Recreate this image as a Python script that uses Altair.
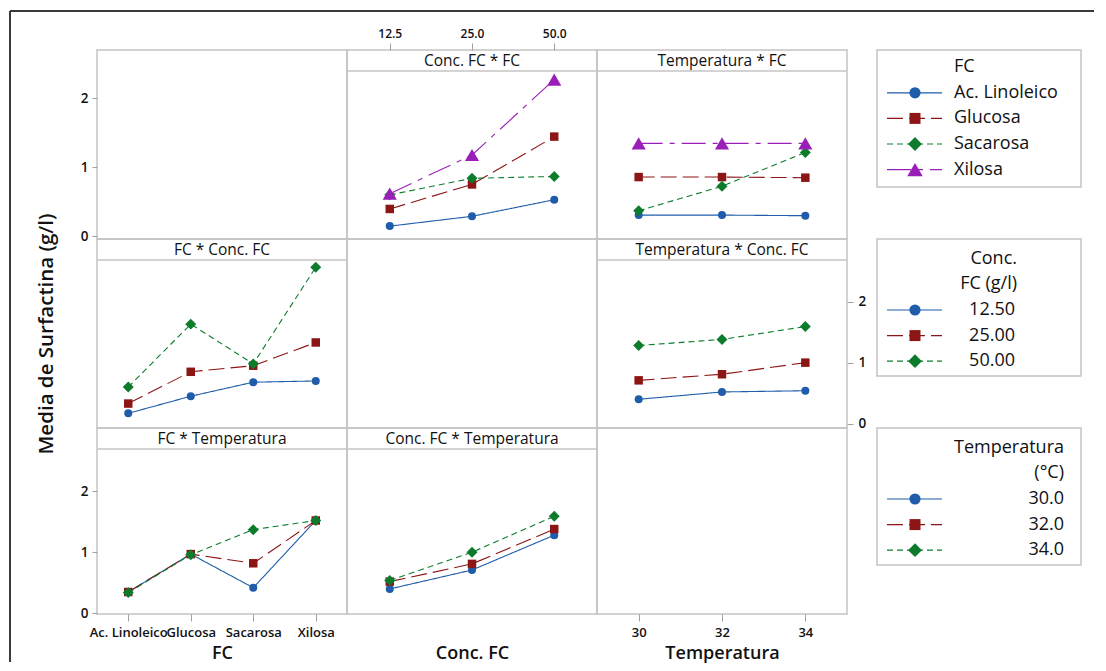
import altair as alt
import pandas as pd

# ---------------- data ----------------
FC = ["Ac. Linoleico", "Glucosa", "Sacarosa", "Xilosa"]
CONC = ["12.5", "25.0", "50.0"]
TEMP = [30, 32, 34]
CONC_LEGEND = ["12.50", "25.00", "50.00"]
TEMP_LEGEND = ["30.0", "32.0", "34.0"]
Y_TICKS = [0, 1, 2]

# mean surfactin for each FC at Conc. FC = 12.5, 25.0, 50.0
LINOLEICO_BY_CONC = [0.17, 0.33, 0.60]
GLUCOSA_BY_CONC = [0.45, 0.85, 1.63]
SACAROSA_BY_CONC = [0.68, 0.95, 0.98]
XILOSA_BY_CONC = [0.70, 1.33, 2.56]

# mean surfactin for each FC at Temperatura = 30, 32, 34
LINOLEICO_BY_TEMP = [0.35, 0.35, 0.34]
GLUCOSA_BY_TEMP = [0.97, 0.97, 0.96]
SACAROSA_BY_TEMP = [0.42, 0.82, 1.37]
XILOSA_BY_TEMP = [1.52, 1.52, 1.52]

# mean surfactin for each Conc. FC at Temperatura = 30, 32, 34
CONC125_BY_TEMP = [0.40, 0.52, 0.54]
CONC25_BY_TEMP = [0.71, 0.81, 1.00]
CONC50_BY_TEMP = [1.28, 1.38, 1.59]

FC_BY_CONC = [LINOLEICO_BY_CONC, GLUCOSA_BY_CONC, SACAROSA_BY_CONC, XILOSA_BY_CONC]
FC_BY_TEMP = [LINOLEICO_BY_TEMP, GLUCOSA_BY_TEMP, SACAROSA_BY_TEMP, XILOSA_BY_TEMP]
CONC_BY_TEMP = [CONC125_BY_TEMP, CONC25_BY_TEMP, CONC50_BY_TEMP]

# ---------------- styles / geometry ----------------
FONT = "Open Sans"
FRAME = "#c4c4c4"
TEXT = "#111111"
STYLE = [
    {"color": "#1F5CAA", "shape": "circle", "size": 64, "lsize": 125, "dash": [1, 0]},
    {"color": "#8C1515", "shape": "square", "size": 72, "lsize": 121, "dash": [16, 6]},
    {"color": "#0C7C2C", "shape": "diamond", "size": 120, "lsize": 190, "dash": [6, 4]},
    {"color": "#9A1FB8", "shape": "triangle-up", "size": 200, "lsize": 240, "dash": [24, 7, 5, 7]},
]
W = 250
HDR = 21
ROW_H = [189, 189, 186]
ROW_DOM = [(-0.04, 2.70), (-0.07, 2.68), (-0.01, 2.69)]
LEG_W = 234


def ydom(r, header=True):
    lo, hi = ROW_DOM[r]
    if not header:
        return [lo, hi]
    return [lo, hi + HDR * (hi - lo) / (ROW_H[r] - HDR)]


def long_table(xs, matrix, transpose=False):
    rows = []
    if transpose:
        n_series = len(matrix[0])
        for s in range(n_series):
            for j, x in enumerate(xs):
                rows.append({"x": x, "s": s, "y": matrix[j][s]})
    else:
        for s, vals in enumerate(matrix):
            for j, x in enumerate(xs):
                rows.append({"x": x, "s": s, "y": vals[j]})
    return pd.DataFrame(rows)


def x_enc(kind, axis):
    if kind == "fc":
        return alt.X("x:N", scale=alt.Scale(type="point", domain=FC, padding=0.5), axis=axis)
    if kind == "conc":
        return alt.X("x:N", scale=alt.Scale(type="point", domain=CONC, padding=0.52), axis=axis)
    return alt.X("x:Q", scale=alt.Scale(domain=[29, 35], nice=False, zero=False), axis=axis)


def header_layers(title):
    hdf = pd.DataFrame({"t": [title]})
    rule = alt.Chart(hdf).mark_rule(color=FRAME, strokeWidth=1.5).encode(
        x=alt.value(0), x2=alt.value(W), y=alt.value(HDR))
    text = alt.Chart(hdf).mark_text(font=FONT, fontSize=15.5, fontWeight=500, color=TEXT,
                                    baseline="middle").encode(
        x=alt.value(W / 2), y=alt.value(HDR / 2 + 0.5), text="t:N")
    return [rule, text]


def panel(r, xkind, title, df, xaxis=None, yaxis=None):
    x = x_enc(xkind, xaxis)
    y = alt.Y("y:Q", scale=alt.Scale(domain=ydom(r), nice=False, zero=False), axis=yaxis)
    layers = []
    for i in sorted(df["s"].unique()):
        st = STYLE[i]
        sub = alt.Chart(df).transform_filter(alt.datum.s == int(i))
        layers.append(sub.mark_line(color=st["color"], strokeWidth=1.1, strokeDash=st["dash"]).encode(x=x, y=y))
        layers.append(sub.mark_point(filled=True, opacity=1, shape=st["shape"], size=st["size"],
                                     color=st["color"]).encode(x=x, y=y))
    layers += header_layers(title)
    return alt.layer(*layers).properties(width=W, height=ROW_H[r])


BOTTOM = dict(orient="bottom", labelAngle=0, tickSize=7, labelPadding=5, labelFontSize=13,
              labelOverlap=False, titleY=39, titleBaseline="middle", titleFontSize=18)

# ---------------- panels ----------------
one = pd.DataFrame({"a": [0]})

# (1,1): empty, carries the row-1 axis and the outer border
p11_axis = alt.Chart(pd.DataFrame({"y": Y_TICKS})).mark_point(opacity=0).encode(
    x=alt.value(0),
    y=alt.Y("y:Q", scale=alt.Scale(domain=ydom(0, header=False), nice=False, zero=False),
            axis=alt.Axis(values=Y_TICKS, format="d", title="", tickSize=5, labelPadding=4)))
border_top = alt.Chart(one).mark_rule(color="#3a3a3a", strokeWidth=2).encode(
    x=alt.value(-87), x2=alt.value(997), y=alt.value(-39))
border_left = alt.Chart(one).mark_rule(color="#3a3a3a", strokeWidth=2).encode(
    x=alt.value(-87), y=alt.value(-39), y2=alt.value(612))
p11 = alt.layer(p11_axis, border_top, border_left).properties(width=W, height=ROW_H[0])

p12 = panel(0, "conc", "Conc. FC * FC", long_table(CONC, FC_BY_CONC),
            xaxis=alt.Axis(orient="top", title="", labelAngle=0, tickSize=7, labelPadding=3, labelFontSize=12))
p13 = panel(0, "temp", "Temperatura * FC", long_table(TEMP, FC_BY_TEMP))

p21 = panel(1, "fc", "FC * Conc. FC", long_table(FC, FC_BY_CONC, transpose=True),
            yaxis=alt.Axis(title="Media de Surfactina (g/l)", labels=False, ticks=False,
                           titleX=-51, titleY=ROW_H[1] / 2, titleAngle=270, titleAlign="center",
                           titleBaseline="middle", titleFontSize=20.5))
p22 = alt.Chart(one).mark_point(opacity=0).encode(x=alt.value(0), y=alt.value(0)).properties(
    width=W, height=ROW_H[1])
p23 = panel(1, "temp", "Temperatura * Conc. FC", long_table(TEMP, CONC_BY_TEMP),
            yaxis=alt.Axis(orient="right", values=Y_TICKS, format="d", title="", tickSize=6, labelPadding=5))

p31 = panel(2, "fc", "FC * Temperatura", long_table(FC, FC_BY_TEMP, transpose=True),
            xaxis=alt.Axis(title="FC", **BOTTOM),
            yaxis=alt.Axis(values=Y_TICKS, format="d", title="", tickSize=5, labelPadding=4))
p32 = panel(2, "conc", "Conc. FC * Temperatura", long_table(CONC, CONC_BY_TEMP, transpose=True),
            xaxis=alt.Axis(title="Conc. FC", labels=False, ticks=False, titleY=39,
                           titleBaseline="middle", titleFontSize=18))
p33 = alt.Chart(pd.DataFrame({"x": TEMP})).mark_point(opacity=0).encode(
    x=x_enc("temp", alt.Axis(title="Temperatura", values=TEMP, format="d", **BOTTOM)),
    y=alt.value(0)).properties(width=W, height=ROW_H[2])


# ---------------- legends ----------------
def legend(r, title_lines, labels, align, title_x, label_x, offset):
    step = 25.6
    h = ROW_H[r]
    ys = alt.Scale(domain=[-offset / step, (h - offset) / step], reverse=True, nice=False, zero=False)
    box = alt.Chart(one).mark_rect(fillOpacity=0, stroke=FRAME, strokeWidth=1.5).encode(
        x=alt.value(30), x2=alt.value(LEG_W), y=alt.value(0), y2=alt.value(137))
    k = len(title_lines)
    tdf = pd.DataFrame({"r": list(range(k)), "t": title_lines})
    title = alt.Chart(tdf).mark_text(font=FONT, fontSize=18, fontWeight=500, color=TEXT, align=align,
                                     baseline="middle").encode(
        x=alt.value(title_x), y=alt.Y("r:Q", scale=ys, axis=None), text="t:N")
    ldf = pd.DataFrame({"r": [k + i for i in range(len(labels))], "t": labels})
    lab = alt.Chart(ldf).mark_text(font=FONT, fontSize=18, fontWeight=500, color=TEXT, align=align,
                                   baseline="middle").encode(
        x=alt.value(label_x), y=alt.Y("r:Q", scale=ys, axis=None), text="t:N")
    layers = [box, title, lab]
    for i in range(len(labels)):
        st = STYLE[i]
        idf = pd.DataFrame({"r": [k + i]})
        layers.append(alt.Chart(idf).mark_rule(color=st["color"], strokeWidth=1.2, strokeDash=st["dash"]).encode(
            x=alt.value(40), x2=alt.value(95), y=alt.Y("r:Q", scale=ys, axis=None)))
        layers.append(alt.Chart(idf).mark_point(filled=True, opacity=1, shape=st["shape"], size=st["lsize"],
                                                color=st["color"]).encode(
            x=alt.value(68), y=alt.Y("r:Q", scale=ys, axis=None)))
    return alt.layer(*layers).properties(width=LEG_W, height=h,
                                         view=alt.ViewBackground(stroke="transparent"))


L1 = legend(0, ["FC"], FC, "left", 107, 107, 17.2)
L2 = legend(1, ["Conc.", "FC (g/l)"], CONC_LEGEND, "right", 170, 168, 19.8)
L3 = legend(2, ["Temperatura", "(°C)"], TEMP_LEGEND, "right", 217, 217, 19.8)

chart = alt.concat(
    p11, p12, p13, L1,
    p21, p22, p23, L2,
    p31, p32, p33, L3,
    columns=4, spacing=0, bounds="flush",
).properties(
    padding={"left": 0, "top": 1, "right": 0, "bottom": 0}
).configure_view(
    stroke=FRAME, strokeWidth=1.5
).configure_axis(
    grid=False, domain=False, labelFont=FONT, titleFont=FONT, labelColor=TEXT, titleColor=TEXT,
    tickColor="#a0a0a0", labelFontWeight=600, titleFontWeight=600, labelFontSize=13.5
)

chart.save("out.html", embed_options={"renderer": "svg", "actions": False})
